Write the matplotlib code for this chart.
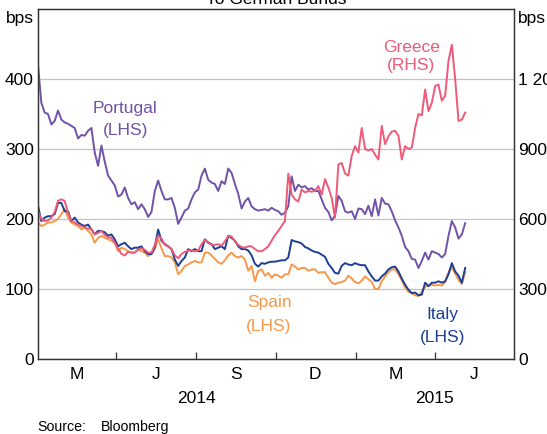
import matplotlib
matplotlib.use("Agg")
import matplotlib.pyplot as plt
import matplotlib.transforms as mtransforms
import pandas as pd

plt.rcParams['font.family'] = ['Liberation Sans', 'DejaVu Sans']

# spreads to German Bunds, bps, sampled every ~4 days from start of 2014
dates = pd.date_range('2014-01-01', '2015-05-06', periods=129)

italy = [219, 197, 202, 204, 204, 207, 223, 223, 211, 211,
         197, 202, 195, 192, 190, 192, 185, 178, 183, 183,
         181, 176, 178, 171, 161, 164, 166, 161, 157, 159,
         159, 161, 154, 150, 150, 160, 185, 169, 164, 161,
         157, 142, 133, 140, 145, 157, 154, 157, 154, 154,
         171, 166, 164, 157, 159, 161, 157, 176, 173, 169,
         161, 157, 157, 155, 148, 136, 132, 137, 136, 138,
         139, 139, 140, 141, 141, 145, 170, 168, 167, 165,
         160, 158, 155, 153, 152, 149, 146, 136, 130, 123,
         122, 133, 137, 135, 134, 137, 135, 134, 134, 125,
         118, 112, 112, 118, 122, 128, 131, 132, 125, 115,
         106, 99, 94, 95, 91, 92, 109, 104, 109, 109,
         111, 109, 111, 121, 137, 125, 119, 109, 130]

spain = [195, 190, 192, 195, 195, 197, 200, 207, 214, 202,
         195, 192, 190, 185, 188, 183, 178, 166, 173, 176,
         173, 171, 169, 166, 154, 159, 157, 154, 152, 152,
         157, 154, 152, 147, 150, 157, 171, 158, 147, 147,
         145, 138, 121, 126, 133, 135, 138, 140, 138, 138,
         152, 152, 148, 143, 138, 136, 141, 148, 152, 147,
         145, 147, 142, 126, 133, 111, 126, 128, 119, 123,
         116, 121, 119, 116, 121, 121, 135, 132, 128, 130,
         130, 126, 128, 128, 123, 124, 124, 116, 109, 107,
         109, 110, 112, 119, 115, 110, 108, 112, 118, 114,
         110, 100, 100, 111, 118, 124, 128, 128, 121, 112,
         102, 96, 94, 91, 90, 96, 103, 105, 106, 105,
         106, 105, 110, 124, 131, 122, 113, 107, 124]

portugal = [420, 366, 352, 350, 335, 340, 355, 342, 338, 336,
            333, 330, 315, 320, 319, 326, 330, 295, 276, 305,
            282, 262, 255, 248, 232, 235, 245, 230, 221, 224,
            214, 221, 214, 203, 210, 240, 255, 240, 228, 228,
            230, 216, 193, 202, 212, 215, 228, 238, 242, 262,
            272, 256, 252, 250, 240, 254, 250, 272, 266, 250,
            236, 215, 225, 230, 218, 214, 212, 213, 214, 212,
            216, 213, 211, 206, 209, 218, 261, 240, 249, 245,
            247, 242, 244, 240, 240, 228, 216, 210, 198, 205,
            233, 226, 211, 209, 211, 200, 215, 214, 207, 219,
            204, 228, 205, 230, 222, 221, 211, 198, 188, 176,
            160, 154, 143, 142, 130, 140, 152, 142, 154, 152,
            150, 145, 150, 176, 197, 188, 172, 178, 194]

# Greece is on the right-hand scale
greece = [633, 600, 591, 594, 606, 630, 678, 684, 678, 624,
          594, 585, 576, 570, 564, 558, 558, 534, 540, 549,
          531, 522, 519, 498, 474, 450, 444, 459, 456, 456,
          468, 474, 468, 456, 456, 489, 528, 516, 489, 483,
          471, 444, 432, 450, 459, 465, 465, 462, 465, 492,
          510, 501, 489, 489, 492, 486, 504, 528, 525, 504,
          489, 480, 477, 483, 483, 471, 462, 462, 471, 483,
          507, 531, 549, 570, 591, 795, 705, 684, 675, 726,
          714, 720, 717, 720, 741, 705, 771, 735, 690, 606,
          834, 840, 795, 786, 870, 912, 885, 990, 900, 894,
          900, 876, 855, 999, 921, 954, 975, 978, 957, 855,
          912, 900, 906, 990, 1050, 1044, 1155, 1062, 1098, 1170,
          1176, 1107, 1128, 1278, 1347, 1200, 1020, 1026, 1056]

left_ticks = [0, 100, 200, 300, 400]
right_ticks = [0, 300, 600, 900, 1200]
right_labels = ['0', '300', '600', '900', '1 200']
quarter_starts = pd.to_datetime(['2014-04-01', '2014-07-01', '2014-10-01',
                                 '2015-01-01', '2015-04-01'])
quarter_mids = pd.to_datetime(['2014-02-15', '2014-05-16', '2014-08-16',
                               '2014-11-15', '2015-02-15', '2015-05-16'])
quarter_labels = ['M', 'J', 'S', 'D', 'M', 'J']

c_portugal = '#7052a8'
c_greece = '#ef5a78'
c_italy = '#1c3f94'
c_spain = '#f7984a'
fs = 12.5

fig = plt.figure(figsize=(5.47, 4.34), dpi=100)
ax = fig.add_axes([38/547, 1 - 359/434, 476/547, 350/434])
ax2 = ax.twinx()

ax.plot(dates, spain, color=c_spain, lw=1.4)
ax.plot(dates, italy, color=c_italy, lw=1.4)
ax.plot(dates, portugal, color=c_portugal, lw=1.4)
ax2.plot(dates, greece, color=c_greece, lw=1.4)

ax.set_xlim(pd.Timestamp('2014-01-01'), pd.Timestamp('2015-07-01'))
ax.set_ylim(0, 500)
ax2.set_ylim(0, 1500)
ax.set_yticks(left_ticks)
ax2.set_yticks(right_ticks)
ax2.set_yticklabels(right_labels)
ax.grid(axis='y', color='#c4c4c4', lw=0.9)
ax.set_axisbelow(True)

ax.set_xticks(quarter_starts)
ax.set_xticklabels([])
ax.set_xticks(quarter_mids, minor=True)
ax.set_xticklabels(quarter_labels, minor=True)
ax.tick_params(axis='x', which='major', direction='in', length=5, color='#333333', width=0.9)
ax.tick_params(axis='x', which='minor', length=0, pad=6, labelsize=fs)
ax.tick_params(axis='y', length=0, pad=3, labelsize=fs)
ax2.tick_params(axis='y', length=0, pad=3, labelsize=fs)
for a in (ax, ax2):
    for s in a.spines.values():
        s.set_color('#333333')
        s.set_linewidth(0.9)

trans = mtransforms.blended_transform_factory(ax.transData, ax.transAxes)
ax.text(pd.Timestamp('2014-07-02'), -0.114, '2014', transform=trans,
        ha='center', va='center', fontsize=fs)
ax.text(pd.Timestamp('2015-04-01'), -0.114, '2015', transform=trans,
        ha='center', va='center', fontsize=fs)

ax.text(-0.008, 0.974, 'bps', transform=ax.transAxes, ha='right', va='center', fontsize=fs)
ax.text(1.008, 0.974, 'bps', transform=ax.transAxes, ha='left', va='center', fontsize=fs)

# series labels
ax.text(pd.Timestamp('2014-04-11'), 358, 'Portugal', color=c_portugal, ha='center', va='center', fontsize=fs)
ax.text(pd.Timestamp('2014-04-11'), 326, '(LHS)', color=c_portugal, ha='center', va='center', fontsize=fs)
ax.text(pd.Timestamp('2015-03-05'), 1337, 'Greece', color=c_greece, ha='center', va='center', fontsize=fs,
        transform=ax2.transData)
ax.text(pd.Timestamp('2015-03-05'), 1256, '(RHS)', color=c_greece, ha='center', va='center', fontsize=fs,
        transform=ax2.transData)
ax.text(pd.Timestamp('2014-09-23'), 80, 'Spain', color=c_spain, ha='center', va='center', fontsize=fs)
ax.text(pd.Timestamp('2014-09-23'), 46, '(LHS)', color=c_spain, ha='center', va='center', fontsize=fs)
ax.text(pd.Timestamp('2015-04-10'), 63, 'Italy', color=c_italy, ha='center', va='center', fontsize=fs)
ax.text(pd.Timestamp('2015-04-10'), 31, '(LHS)', color=c_italy, ha='center', va='center', fontsize=fs)

fig.text(276/547, 1 - 3.5/434, 'To German Bunds', ha='center', va='baseline', fontsize=fs)
fig.text(37/547, 1 - 427/434, 'Source:', ha='left', va='center', fontsize=10.2)
fig.text(101/547, 1 - 427/434, 'Bloomberg', ha='left', va='center', fontsize=10.2)

fig.savefig('out.png', dpi=100)
